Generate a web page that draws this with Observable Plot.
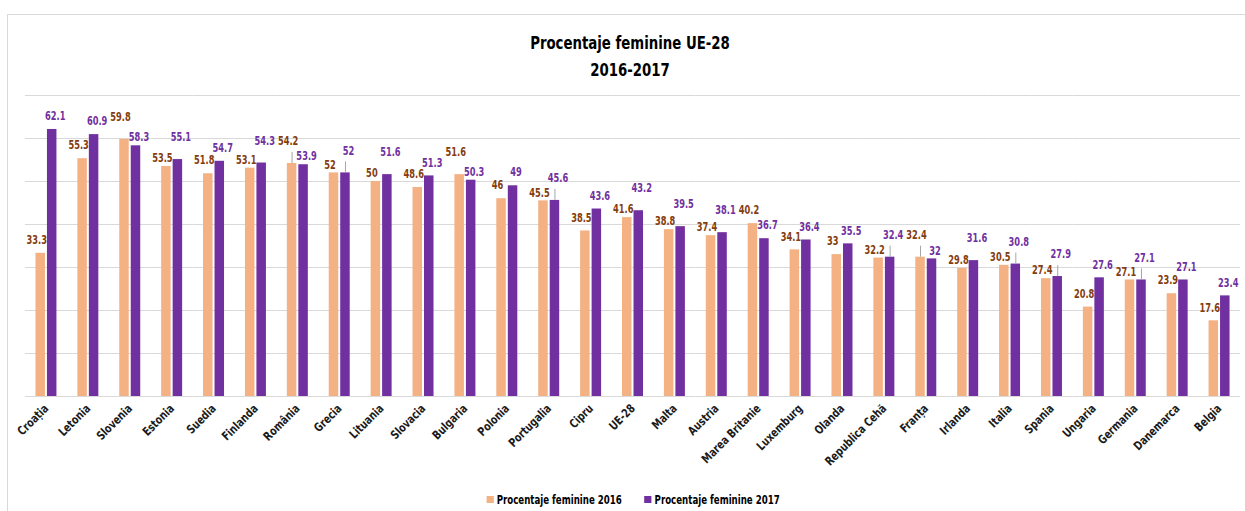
<!DOCTYPE html>
<html>
<head>
<meta charset="utf-8">
<script src="https://cdn.jsdelivr.net/npm/d3@7"></script>
<script src="https://cdn.jsdelivr.net/npm/@observablehq/plot@0.6"></script>
<style>
  html, body { margin: 0; padding: 0; background: #fff; }
  body { width: 1245px; height: 511px; position: relative; overflow: hidden;
         font-family: "DejaVu Sans Condensed", "DejaVu Sans", sans-serif; }
  #frame { position: absolute; left: 7px; top: 14px; width: 1260px; height: 520px; border: 1px solid #d9d9d9; box-sizing: border-box; }
  #title { position: absolute; left: 15px; width: 1230px; top: 30px; text-align: center; font-weight: bold; font-size: 17px; line-height: 27px; color: #000; transform: scaleX(0.87); }
  #chart { position: absolute; left: 0; top: 0; }
  #legend { position: absolute; left: 18px; width: 1230px; top: 491px; text-align: center; font-size: 12px; font-weight: bold; color: #000; line-height: 16px; transform: scaleX(0.8); white-space: nowrap; }
  #legend .item { display: inline-flex; align-items: center; margin: 0 14px; }
  #legend .sw { width: 9px; height: 7px; display: inline-block; margin-right: 4px; }
</style>
</head>
<body>
<div id="frame"></div>
<div id="title">Procentaje feminine UE-28<br>2016-2017</div>
<div id="chart"></div>
<div id="legend"></div>
<script>
const countries = ["Croația","Letonia","Slovenia","Estonia","Suedia","Finlanda","România","Grecia","Lituania","Slovacia","Bulgaria","Polonia","Portugalia","Cipru","UE-28","Malta","Austria","Marea Britanie","Luxemburg","Olanda","Republica Cehă","Franța","Irlanda","Italia","Spania","Ungaria","Germania","Danemarca","Belgia"];
const pct2016 = [33.3,55.3,59.8,53.5,51.8,53.1,54.2,52,50,48.6,51.6,46,45.5,38.5,41.6,38.8,37.4,40.2,34.1,33,32.2,32.4,29.8,30.5,27.4,20.8,27.1,23.9,17.6];
const pct2017 = [62.1,60.9,58.3,55.1,54.7,54.3,53.9,52,51.6,51.3,50.3,49,45.6,43.6,43.2,39.5,38.1,36.7,36.4,35.5,32.4,32,31.6,30.8,27.9,27.6,27.1,27.1,23.4];
const years = ["2016","2017"];
const seriesNames = ["Procentaje feminine 2016","Procentaje feminine 2017"];
const yTicks = [0,10,20,30,40,50,60,70];

const barColors = ["#F4B183","#7030A0"];
const labelColors = ["#843C0C","#7030A0"];

// label placement roles derived from the values: when a pair is close, stagger the two labels
const data = countries.flatMap((c, i) => {
  const a = pct2016[i], b = pct2017[i];
  const close = Math.abs(b - a) < 2;
  const role16 = close ? (a > b ? "hi" : "lo") : "mid";
  const role17 = close ? (b >= a ? "hi" : "lo") : "mid";
  const lead = close && Math.abs(b - a) <= 0.7;
  return [
    {country: c, year: years[0], value: a, role: role16, leader: lead && role16 === "hi"},
    {country: c, year: years[1], value: b, role: role17, leader: lead && role17 === "hi"}
  ];
});

const roleDy = {hi: -22, mid: -13, lo: -8};
const yearDx = [-4, 3];

const labelMarks = [];
years.forEach((yr, k) => {
  Object.keys(roleDy).forEach(role => {
    labelMarks.push(Plot.text(data.filter(d => d.year === yr && d.role === role), {
      fx: "country", x: "year", y: "value", text: d => String(d.value),
      fill: labelColors[k], dy: roleDy[role], dx: yearDx[k], fontSize: 11.5, fontWeight: "bold"
    }));
  });
});

const chart = Plot.plot({
  width: 1245,
  height: 490,
  marginLeft: 25,
  marginRight: 5,
  marginTop: 95,
  marginBottom: 94,
  style: {fontFamily: '"DejaVu Sans Condensed", "DejaVu Sans", sans-serif', background: "transparent"},
  fx: {domain: countries, padding: 0, round: false, label: null},
  x: {domain: years, paddingInner: 0.174, paddingOuter: 0.91, round: false, axis: null},
  y: {domain: [0, 70], axis: null},
  color: {domain: years, range: barColors},
  marks: [
    Plot.gridY(yTicks, {stroke: "#d9d9d9", strokeOpacity: 1, strokeWidth: 1}),
    Plot.barY(data, {fx: "country", x: "year", y: "value", fill: "year"}),
    Plot.ruleX(data.filter(d => d.leader), {fx: "country", x: "year", y1: "value", y2: "value",
      insetTop: -11, stroke: "#a6a6a6", strokeWidth: 1}),
    ...labelMarks,
    Plot.axisFx({anchor: "bottom", tickRotate: -45, tickSize: 0, tickPadding: 10, label: null,
      fontSize: 12, fontWeight: "bold", fill: "#1a1a1a"})
  ]
});
document.getElementById("chart").appendChild(chart);

// condense glyphs to approximate the narrow original typeface
chart.querySelectorAll("text").forEach(t => {
  const isAxis = /rotate/.test(t.getAttribute("transform") || "") || (t.closest && t.closest('[aria-label*="axis"]'));
  const factor = isAxis ? 0.86 : 0.8;
  const len = t.getComputedTextLength();
  if (len > 0) {
    t.setAttribute("textLength", (len * factor).toFixed(2));
    t.setAttribute("lengthAdjust", "spacingAndGlyphs");
  }
});

const legend = document.getElementById("legend");
seriesNames.forEach((name, i) => {
  const item = document.createElement("span");
  item.className = "item";
  const sw = document.createElement("span");
  sw.className = "sw";
  sw.style.background = barColors[i];
  item.appendChild(sw);
  item.appendChild(document.createTextNode(name));
  legend.appendChild(item);
});
</script>
</body>
</html>
